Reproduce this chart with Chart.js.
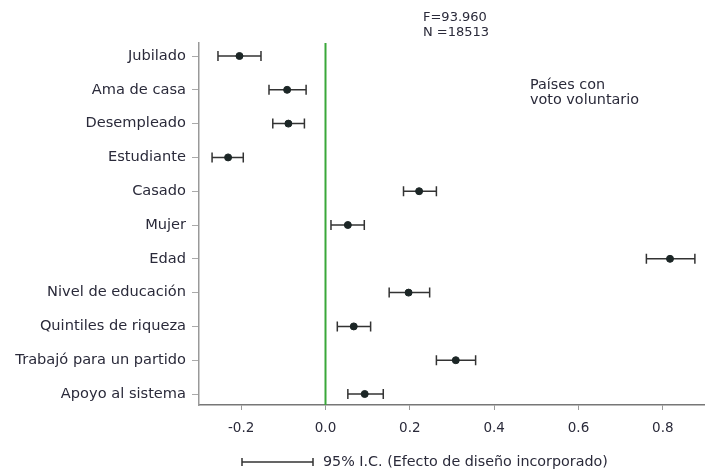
<!DOCTYPE html>
<html lang="es">
  <head>
    <meta charset="UTF-8" />
    <title>Países con voto voluntario</title>
    <style>
      html, body { margin: 0; padding: 0; background: #fff; overflow: hidden; }
      canvas { display: block; }
    </style>
  </head>
  <body>
    <canvas id="myChart" width="705" height="471"></canvas>
  </body>
  <script src="https://cdn.jsdelivr.net/npm/chart.js"></script>
  <script>
    var categories = ["Jubilado", "Ama de casa", "Desempleado", "Estudiante", "Casado", "Mujer",
      "Edad", "Nivel de educación", "Quintiles de riqueza", "Trabajó para un partido", "Apoyo al sistema"];
    var estimates = [-0.204, -0.091, -0.088, -0.231, 0.222, 0.053, 0.817, 0.197, 0.067, 0.309, 0.093];
    var lower = [-0.255, -0.134, -0.125, -0.269, 0.185, 0.013, 0.761, 0.151, 0.028, 0.263, 0.053];
    var upper = [-0.153, -0.046, -0.050, -0.195, 0.263, 0.092, 0.876, 0.247, 0.107, 0.356, 0.137];
    var xTicks = [-0.2, 0.0, 0.2, 0.4, 0.6, 0.8];

    var points = estimates.map(function (v, i) { return { x: v, y: i }; });
    var textColor = "#2a2a3a";
    var fontFam = "'DejaVu Sans', Verdana, sans-serif";

    // whiskers, zero line and the free texts
    var extras = {
      id: "extras",
      beforeDatasetsDraw: function (chart) {
        var ctx = chart.ctx, xs = chart.scales.x, ys = chart.scales.y, area = chart.chartArea;
        ctx.save();
        var x0 = xs.getPixelForValue(0);
        ctx.strokeStyle = "#3aa83a";
        ctx.lineWidth = 2;
        ctx.beginPath();
        ctx.moveTo(x0, area.top);
        ctx.lineTo(x0, area.bottom);
        ctx.stroke();

        ctx.strokeStyle = "#333";
        ctx.lineWidth = 1.5;
        for (var i = 0; i < estimates.length; i++) {
          var y = ys.getPixelForValue(i);
          var a = xs.getPixelForValue(lower[i]);
          var b = xs.getPixelForValue(upper[i]);
          ctx.beginPath();
          ctx.moveTo(a, y); ctx.lineTo(b, y);
          ctx.moveTo(a, y - 5); ctx.lineTo(a, y + 5);
          ctx.moveTo(b, y - 5); ctx.lineTo(b, y + 5);
          ctx.stroke();
        }
        ctx.restore();
      },
      afterDraw: function (chart) {
        var ctx = chart.ctx;
        ctx.save();
        ctx.fillStyle = textColor;
        ctx.textBaseline = "middle";
        ctx.textAlign = "left";
        ctx.font = "13px " + fontFam;
        ctx.fillText("F=93.960", 423, 18);
        ctx.fillText("N =18513", 423, 33);
        ctx.font = "14.4px " + fontFam;
        ctx.fillText("Países con", 530, 85);
        ctx.fillText("voto voluntario", 530, 100);

        // legend for the interval bars
        ctx.strokeStyle = "#333";
        ctx.lineWidth = 1.5;
        ctx.beginPath();
        ctx.moveTo(242, 462); ctx.lineTo(313, 462);
        ctx.moveTo(242, 458); ctx.lineTo(242, 466);
        ctx.moveTo(313, 458); ctx.lineTo(313, 466);
        ctx.stroke();
        ctx.font = "14.3px " + fontFam;
        ctx.fillText("95% I.C. (Efecto de diseño incorporado)", 323, 462);
        ctx.restore();
      }
    };

    const config = {
      type: "scatter",
      data: {
        datasets: [{
          data: points,
          backgroundColor: "#1c2626",
          borderColor: "#1c2626",
          pointRadius: 3.5,
          pointHoverRadius: 3.5
        }]
      },
      options: {
        responsive: false,
        animation: false,
        layout: { autoPadding: false, padding: { top: 43, right: 0, bottom: 0, left: 0 } },
        plugins: { legend: { display: false }, tooltip: { enabled: false } },
        scales: {
          x: {
            type: "linear",
            min: -0.3,
            max: 0.9,
            afterBuildTicks: function (s) { s.ticks = xTicks.map(function (v) { return { value: v }; }); },
            afterFit: function (s) { s.height = 66; },
            grid: { drawOnChartArea: false, tickLength: 5, color: "#999" },
            border: { color: "#777", width: 1.5 },
            ticks: {
              color: textColor,
              padding: 10,
              font: { family: fontFam, size: 13.5 },
              callback: function (v) { return v.toFixed(1); }
            }
          },
          y: {
            type: "linear",
            reverse: true,
            min: -0.385,
            max: 10.325,
            afterBuildTicks: function (s) { s.ticks = categories.map(function (c, i) { return { value: i }; }); },
            afterFit: function (s) { s.width = 199; },
            grid: { drawOnChartArea: false, tickLength: 7, color: "#aaa" },
            border: { color: "#999", width: 1.5 },
            ticks: {
              color: textColor,
              padding: 6,
              font: { family: fontFam, size: 14.6 },
              callback: function (v) { return categories[v]; }
            }
          }
        }
      },
      plugins: [extras]
    };

    var myChart = new Chart(document.getElementById("myChart"), config);
  </script>
</html>
